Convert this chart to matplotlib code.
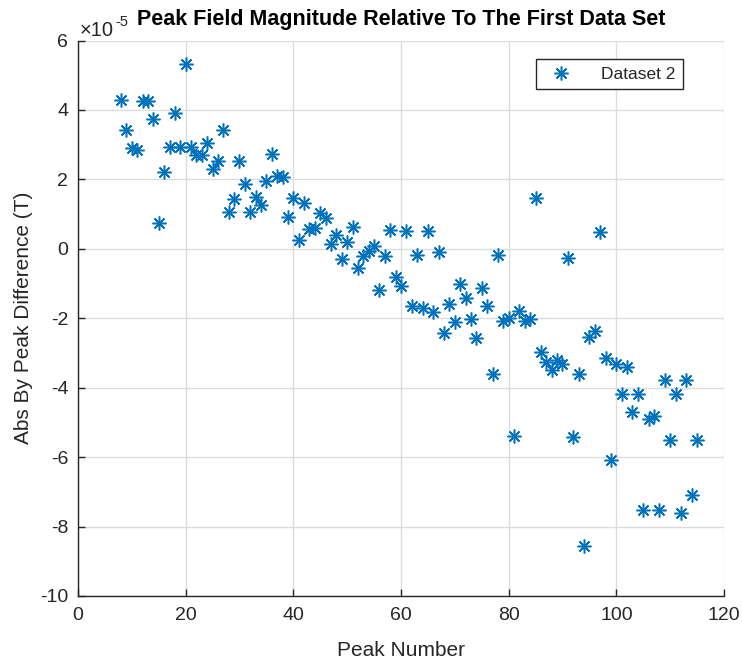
import numpy as np
import matplotlib
matplotlib.use('Agg')
import matplotlib.pyplot as plt

#-----------------------------------------------------------------------------
# data (y in units of 1e-5 T)
peak_number = np.arange(8, 116)
peak_diff = [4.29, 3.42, 2.90, 2.86, 4.26, 4.26, 3.73, 0.75, 2.21, 2.94,
             3.92, 2.94, 5.32, 2.94, 2.69, 2.71, 3.04, 2.30, 2.54, 3.43,
             1.05, 1.43, 2.52, 1.88, 1.05, 1.50, 1.26, 1.95, 2.73, 2.11,
             2.07, 0.91, 1.45, 0.26, 1.32, 0.57, 0.61, 1.04, 0.90, 0.14,
             0.40, -0.29, 0.21, 0.62, -0.55, -0.20, -0.05, 0.07, -1.19, -0.22,
             0.54, -0.81, -1.06, 0.52, -1.65, -0.17, -1.70, 0.50, -1.81, -0.08,
             -2.43, -1.60, -2.10, -1.00, -1.41, -2.03, -2.58, -1.12, -1.65, -3.60,
             -0.17, -2.08, -1.98, -5.40, -1.79, -2.08, -2.03, 1.45, -2.98, -3.27,
             -3.50, -3.20, -3.31, -0.27, -5.41, -3.60, -8.55, -2.53, -2.36, 0.47,
             -3.14, -6.08, -3.33, -4.17, -3.41, -4.71, -4.17, -7.52, -4.90, -4.81,
             -7.52, -3.79, -5.50, -4.17, -7.60, -3.79, -7.10, -5.50]
xticks = [0, 20, 40, 60, 80, 100, 120]
yticks = [-10, -8, -6, -4, -2, 0, 2, 4, 6]
#-----------------------------------------------------------------------------

plt.rcParams['font.family'] = ['Liberation Sans', 'DejaVu Sans']
plt.rcParams['axes.unicode_minus'] = False

txt = '#262626'
blue = '#0072BD'

fig = plt.figure(figsize=(7.42, 6.68), dpi=100)
ax = fig.add_axes([78/742, 1-596/668, (724-78)/742, (596-40.5)/668])

ax.plot(peak_number, peak_diff, linestyle='none', marker=(8, 2, 0),
        markersize=10, markeredgewidth=1.1, color=blue, label='Dataset 2')

ax.set_xlim(0, 120)
ax.set_ylim(-10, 6)
ax.set_xticks(xticks)
ax.set_yticks(yticks)
ax.grid(True, color='#dcdcdc', linewidth=1)
ax.set_axisbelow(True)
ax.spines['top'].set_visible(False)
ax.spines['right'].set_visible(False)
for s in ['left', 'bottom']:
    ax.spines[s].set_color(txt)
    ax.spines[s].set_linewidth(1)
ax.tick_params('both', direction='in', length=5, width=1, color=txt,
               labelcolor=txt, labelsize=14)
ax.tick_params('x', pad=8)
ax.tick_params('y', pad=7)

ax.set_xlabel('Peak Number', fontsize=15, color=txt, labelpad=12)
ax.set_ylabel('Abs By Peak Difference (T)', fontsize=15, color=txt, labelpad=5)
ax.set_title('Peak Field Magnitude Relative To The First Data Set',
             fontsize=15.5, fontweight='bold', color='black', pad=11)
# exponent label, drawn as plain text so the minus stays a hyphen
fig.text(80/742, 1-36/668, '\u00d710', fontsize=14.5, color=txt,
         va='baseline', ha='left')
fig.text(115/742, 1-26/668, '-5', fontsize=10.5, color=txt,
         va='baseline', ha='left')

leg = ax.legend(loc='upper right', bbox_to_anchor=(692/742, 1-50/668),
                bbox_transform=fig.transFigure, fontsize=12.5, fancybox=False,
                framealpha=1, borderpad=0.45, handletextpad=1.3)
leg.get_frame().set_edgecolor(txt)
leg.get_frame().set_linewidth(1)
for t in leg.get_texts():
    t.set_color(txt)

plt.savefig('out.png', dpi=100)
